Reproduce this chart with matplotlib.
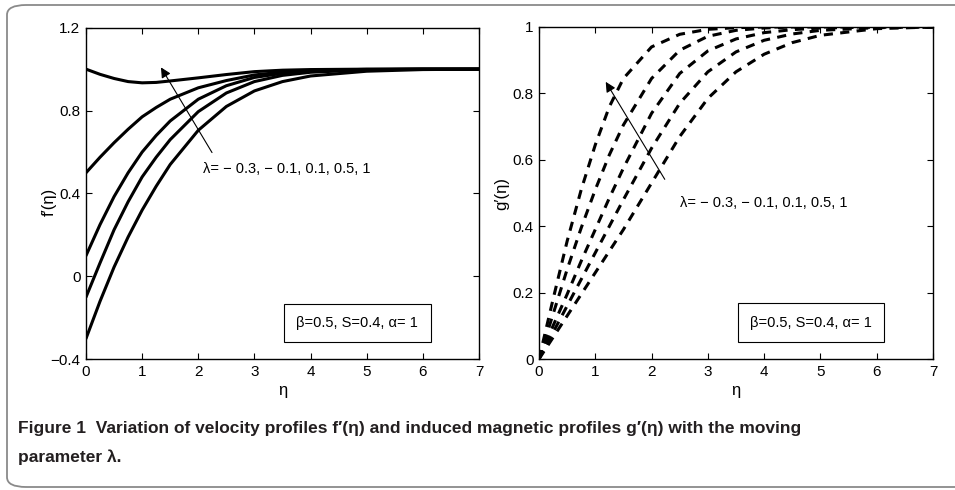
import matplotlib
matplotlib.use("Agg")
import matplotlib.pyplot as plt
from matplotlib.patches import FancyBboxPatch
import numpy as np

plt.rcParams['font.family'] = ['Liberation Sans', 'DejaVu Sans']

# ---------------- data ----------------
lambdas = [-0.3, -0.1, 0.1, 0.5, 1]

eta_f = [0, 0.25, 0.5, 0.75, 1.0, 1.25, 1.5, 2.0, 2.5, 3.0, 3.5, 4.0, 5.0, 6.0, 7.0]
f_m03 = [-0.30, -0.12, 0.045, 0.19, 0.32, 0.435, 0.54, 0.705, 0.82, 0.895, 0.94, 0.967, 0.99, 0.998, 1.0]
f_m01 = [-0.10, 0.065, 0.225, 0.36, 0.48, 0.575, 0.66, 0.795, 0.885, 0.94, 0.97, 0.985, 0.997, 1.0, 1.0]
f_p01 = [0.10, 0.25, 0.385, 0.50, 0.60, 0.68, 0.75, 0.855, 0.92, 0.96, 0.98, 0.99, 0.998, 1.0, 1.0]
f_p05 = [0.50, 0.575, 0.645, 0.71, 0.77, 0.815, 0.855, 0.91, 0.945, 0.972, 0.986, 0.994, 0.999, 1.0, 1.0]
f_p10 = [1.00, 0.975, 0.955, 0.94, 0.934, 0.936, 0.943, 0.958, 0.974, 0.988, 0.995, 0.998, 1.0, 1.0, 1.0]

eta_g = [0, 0.25, 0.5, 0.75, 1.0, 1.25, 1.5, 2.0, 2.5, 3.0, 3.5, 4.0, 4.5, 5.0, 6.0, 7.0]
g_m03 = [0, 0.065, 0.13, 0.195, 0.26, 0.325, 0.39, 0.53, 0.67, 0.785, 0.865, 0.918, 0.953, 0.975, 0.995, 1.0]
g_m01 = [0, 0.08, 0.16, 0.24, 0.32, 0.40, 0.48, 0.635, 0.77, 0.865, 0.925, 0.96, 0.979, 0.99, 0.998, 1.0]
g_p01 = [0, 0.10, 0.195, 0.295, 0.39, 0.485, 0.575, 0.74, 0.86, 0.928, 0.964, 0.983, 0.992, 0.997, 1.0, 1.0]
g_p05 = [0, 0.135, 0.27, 0.395, 0.51, 0.615, 0.705, 0.845, 0.93, 0.972, 0.99, 0.997, 1.0, 1.0, 1.0, 1.0]
g_p10 = [0, 0.18, 0.355, 0.51, 0.645, 0.76, 0.845, 0.94, 0.978, 0.993, 0.998, 1.0, 1.0, 1.0, 1.0, 1.0]

f_curves = [f_m03, f_m01, f_p01, f_p05, f_p10]
g_curves = [g_m03, g_m01, g_p01, g_p05, g_p10]

f_yticks = [-0.4, 0, 0.4, 0.8, 1.2]
f_yticklabels = ['\u22120.4', '0', '0.4', '0.8', '1.2']
g_yticks = [0, 0.2, 0.4, 0.6, 0.8, 1]
g_yticklabels = ['0', '0.2', '0.4', '0.6', '0.8', '1']
xticks = [0, 1, 2, 3, 4, 5, 6, 7]

lam_text = "\u03bb= \u2212 0.3, \u2212 0.1, 0.1, 0.5, 1"
param_text = "\u03b2=0.5, S=0.4, \u03b1= 1"
caption1 = "Figure 1  Variation of velocity profiles f\u2032(\u03b7) and induced magnetic profiles g\u2032(\u03b7) with the moving"
caption2 = "parameter \u03bb."

# ---------------- figure ----------------
fig = plt.figure(figsize=(9.55, 4.90), dpi=100)

frame = FancyBboxPatch((7 / 955, 3 / 490), 1.1, 482 / 490,
                       boxstyle="round,pad=0,rounding_size=0.02",
                       transform=fig.transFigure, fill=False,
                       edgecolor='#8a8a8a', linewidth=1.3, clip_on=False)
fig.patches.append(frame)

axL = fig.add_axes([86 / 955, 1 - 359.3 / 490, 393 / 955, 331.6 / 490])
axR = fig.add_axes([539 / 955, 1 - 359 / 490, 394 / 955, 332 / 490])

tick_fs = 11
for ax in (axL, axR):
    ax.tick_params(direction='in', top=True, right=True, length=4, width=0.8,
                   labelsize=tick_fs, pad=4)
    for s in ax.spines.values():
        s.set_linewidth(1.0)
    ax.set_xlim(0, 7)
    ax.set_xticks(xticks)
    ax.set_xticklabels([str(t) for t in xticks])
    ax.set_xlabel('\u03b7', fontsize=12, labelpad=3)

# left: f'
for fc in f_curves:
    axL.plot(eta_f, fc, color='black', linewidth=2.2, solid_capstyle='round')
axL.set_ylim(-0.4, 1.2)
axL.set_yticks(f_yticks)
axL.set_yticklabels(f_yticklabels)
axL.set_ylabel('f\u2032(\u03b7)', fontsize=12)
axL.yaxis.set_label_coords(-0.074, 0.474)
axL.annotate('', xy=(1.31, 1.02), xytext=(2.27, 0.586),
             arrowprops=dict(arrowstyle='-|>', color='black', lw=0.8,
                             mutation_scale=15))
axL.text(2.08, 0.52, lam_text, fontsize=10.5, va='center', ha='left')
axL.text(4.83, -0.225, param_text, fontsize=10.5, va='center', ha='center',
         bbox=dict(boxstyle='square,pad=0.85', facecolor='white',
                   edgecolor='black', linewidth=0.8))

# right: g'
for gc in g_curves:
    axR.plot(eta_g, gc, color='black', linewidth=2.2, linestyle=(0, (3.0, 2.4)))
axR.set_ylim(0, 1)
axR.set_yticks(g_yticks)
axR.set_yticklabels(g_yticklabels)
axR.set_ylabel('g\u2032(\u03b7)', fontsize=12)
axR.yaxis.set_label_coords(-0.076, 0.5)
axR.annotate('', xy=(1.16, 0.842), xytext=(2.26, 0.534),
             arrowprops=dict(arrowstyle='-|>', color='black', lw=0.8,
                             mutation_scale=15))
axR.text(2.5, 0.469, lam_text, fontsize=10.5, va='center', ha='left')
axR.text(4.83, 0.109, param_text, fontsize=10.5, va='center', ha='center',
         bbox=dict(boxstyle='square,pad=0.85', facecolor='white',
                   edgecolor='black', linewidth=0.8))

cap_font = ['Liberation Sans Narrow', 'Liberation Sans', 'DejaVu Sans']
fig.text(18 / 955, 1 - 428 / 490, caption1, fontsize=12.5, fontweight='bold',
         family=cap_font, va='center', ha='left', color='#231f20')
fig.text(18 / 955, 1 - 457 / 490, caption2, fontsize=12.5, fontweight='bold',
         family=cap_font, va='center', ha='left', color='#231f20')

fig.savefig('out.png', dpi=100)
